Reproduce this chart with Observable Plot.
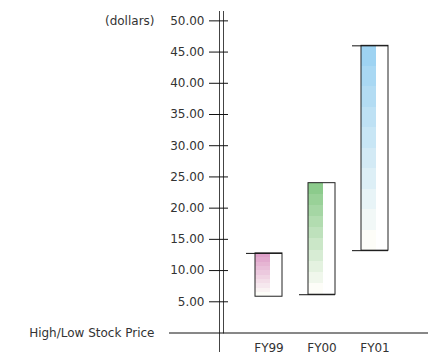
<!DOCTYPE html>
<html>
<head>
<meta charset="utf-8">
<script src="https://cdn.jsdelivr.net/npm/d3@7"></script>
<script src="https://cdn.jsdelivr.net/npm/@observablehq/plot@0.6"></script>
<style>
  html, body { margin: 0; padding: 0; background: #fff; }
</style>
</head>
<body>
<div id="chart"></div>
<script>
// ---- data ----
const years = ["FY99", "FY00", "FY01"];
const high = [12.75, 24.00, 46.00];
const low = [5.81, 6.13, 13.19];
const yTicks = [5, 10, 15, 20, 25, 30, 35, 40, 45, 50];
const topColors = ["#dfa0c9", "#8ccb8c", "#9ed3f2"];
const yUnit = "(dollars)";
const rowLabel = "High/Low Stock Price";

const data = years.map((year, i) => ({year, high: high[i], low: low[i], id: "grad" + i}));

const plot = Plot.plot({
  width: 428,
  height: 356,
  marginLeft: 223,
  marginRight: 0,
  marginTop: 11,
  marginBottom: 23.5,
  style: {fontFamily: "'DejaVu Sans', sans-serif", fontSize: "12px", color: "#333", background: "#fff"},
  x: {domain: years, range: [228.25, 413.75], padding: 0.5},
  y: {domain: [0, 51.5]},
  marks: [
    // stepped gradient halves
    ...data.map(d => Plot.barY([d], {x: "year", y1: "low", y2: "high", fill: `url(#${d.id})`, insetRight: 12})),
    // high/low boxes
    Plot.barY(data, {x: "year", y1: "low", y2: "high", fill: "none", stroke: "#222", strokeWidth: 1}),
    // extended high / low marks
    Plot.tickY(data.filter(d => d.year !== "FY00"), {x: "year", y: "high", stroke: "#111", insetLeft: -9}),
    Plot.tickY(data.filter(d => d.year !== "FY99"), {x: "year", y: "low", stroke: "#111", insetLeft: -9}),
    // double vertical axis line
    Plot.frame({anchor: "left", stroke: "#444"}),
    Plot.frame({anchor: "left", stroke: "#444", insetLeft: -4, insetBottom: -18.5}),
    // baseline
    Plot.frame({anchor: "bottom", stroke: "#111", insetLeft: -54}),
    // y axis
    Plot.axisY({ticks: yTicks, tickFormat: d3.format(".2f"), tickSize: 19, tickPadding: 5, dx: 5, stroke: "#111", label: null}),
    Plot.axisX({tickSize: 0, tickPadding: 10, label: null}),
    Plot.text([yUnit], {y: [50], frameAnchor: "left", dx: -69, textAnchor: "end", fill: "#333"}),
    Plot.text([rowLabel], {y: [0], frameAnchor: "left", dx: -69, textAnchor: "end", fill: "#333"})
  ]
});

// stepped vertical gradients (darkest at top)
const svg = d3.select(plot);
const defs = svg.insert("defs", ":first-child");
data.forEach((d, i) => {
  const g = defs.append("linearGradient").attr("id", d.id)
    .attr("x1", 0).attr("y1", 0).attr("x2", 0).attr("y2", 1);
  const interp = d3.interpolateRgb(topColors[i], "#fdfdf8");
  const n = 10;
  for (let k = 0; k < n; k++) {
    const c = interp(k / (n - 1));
    g.append("stop").attr("offset", k / n).attr("stop-color", c);
    g.append("stop").attr("offset", (k + 1) / n).attr("stop-color", c);
  }
});

document.getElementById("chart").appendChild(plot);
</script>
</body>
</html>
